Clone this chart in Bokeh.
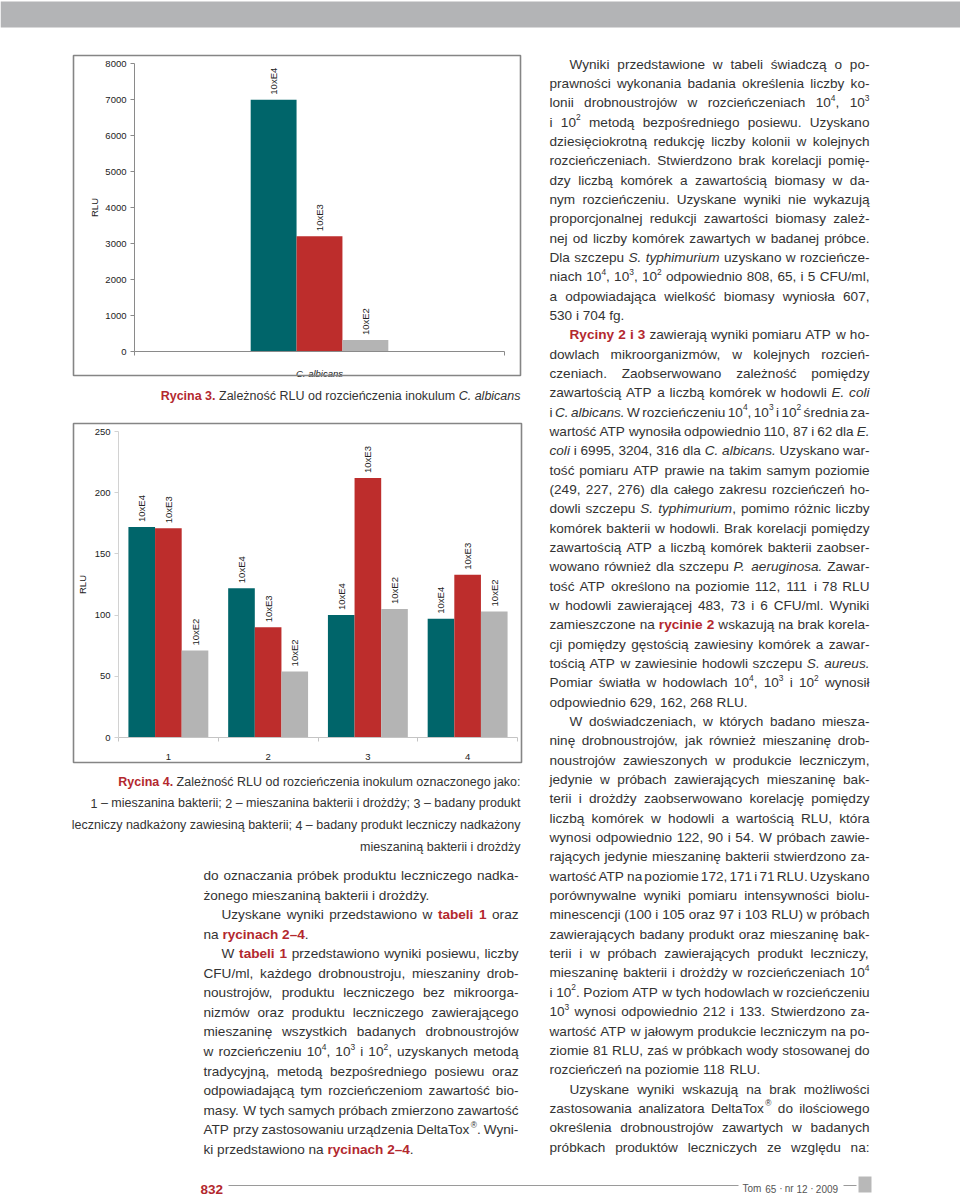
import math
from bokeh.plotting import figure
from bokeh.models import Range1d, LinearAxis, FixedTicker, ColumnDataSource, BoxAnnotation
from bokeh.transform import dodge
from bokeh.core.properties import value, field
from bokeh.embed import file_html
from bokeh.resources import INLINE

# ---------------- data ----------------
dilutions = ["10xE4", "10xE3", "10xE2"]
fig3_category = ["C. albicans"]
fig3_rlu = [6995, 3204, 316]
fig3_yticks = [0, 1000, 2000, 3000, 4000, 5000, 6000, 7000, 8000]

fig4_groups = [1, 2, 3, 4]
fig4_rlu_e4 = [172, 122, 100, 97]
fig4_rlu_e3 = [171, 90, 212, 133]
fig4_rlu_e2 = [71, 54, 105, 103]
fig4_yticks = [0, 50, 100, 150, 200, 250]

caption3 = "#Rycina 3.# Zależność RLU od rozcieńczenia inokulum _C. albicans_"
caption4 = [
    "#Rycina 4.# Zależność RLU od rozcieńczenia inokulum oznaczonego jako:",
    "1 – mieszanina bakterii; 2 – mieszanina bakterii i drożdży; 3 – badany produkt",
    "leczniczy nadkażony zawiesiną bakterii; 4 – badany produkt leczniczy nadkażony",
    "mieszaniną bakterii i drożdży",
]

# paragraphs: (lines, indented first line, paragraph ends on this page)
left_paras = [
    (["do oznaczania próbek produktu leczniczego nadka-",
      "żonego mieszaniną bakterii i drożdży."], False, True),
    (["Uzyskane wyniki przedstawiono w #tabeli 1# oraz",
      "na #rycinach 2–4#."], True, True),
    (["W #tabeli 1# przedstawiono wyniki posiewu, liczby",
      "CFU/ml, każdego drobnoustroju, mieszaniny drob-",
      "noustrojów, produktu leczniczego bez mikroorga-",
      "nizmów oraz produktu leczniczego zawierającego",
      "mieszaninę wszystkich badanych drobnoustrojów",
      "w rozcieńczeniu 10^4, 10^3 i 10^2, uzyskanych metodą",
      "tradycyjną, metodą bezpośredniego posiewu oraz",
      "odpowiadającą tym rozcieńczeniom zawartość bio-",
      "masy. W tych samych próbach zmierzono zawartość",
      "ATP przy zastosowaniu urządzenia DeltaTox^®. Wyni-",
      "ki przedstawiono na #rycinach 2–4#."], True, True),
]

right_paras = [
    (["Wyniki przedstawione w tabeli świadczą o po-",
      "prawności wykonania badania określenia liczby ko-",
      "lonii drobnoustrojów w rozcieńczeniach 10^4, 10^3",
      "i 10^2 metodą bezpośredniego posiewu. Uzyskano",
      "dziesięciokrotną redukcję liczby kolonii w kolejnych",
      "rozcieńczeniach. Stwierdzono brak korelacji pomię-",
      "dzy liczbą komórek a zawartością biomasy w da-",
      "nym rozcieńczeniu. Uzyskane wyniki nie wykazują",
      "proporcjonalnej redukcji zawartości biomasy zależ-",
      "nej od liczby komórek zawartych w badanej próbce.",
      "Dla szczepu _S. typhimurium_ uzyskano w rozcieńcze-",
      "niach 10^4, 10^3, 10^2 odpowiednio 808, 65, i 5 CFU/ml,",
      "a odpowiadająca wielkość biomasy wyniosła 607,",
      "530 i 704 fg."], True, True),
    (["#Ryciny 2 i 3# zawierają wyniki pomiaru ATP w ho-",
      "dowlach mikroorganizmów, w kolejnych rozcień-",
      "czeniach. Zaobserwowano zależność pomiędzy",
      "zawartością ATP a liczbą komórek w hodowli _E. coli_",
      "i _C. albicans._ W rozcieńczeniu 10^4, 10^3 i 10^2 średnia za-",
      "wartość ATP wynosiła odpowiednio 110, 87 i 62 dla _E._",
      "_coli_ i 6995, 3204, 316 dla _C. albicans._ Uzyskano war-",
      "tość pomiaru ATP prawie na takim samym poziomie",
      "(249, 227, 276) dla całego zakresu rozcieńczeń ho-",
      "dowli szczepu _S. typhimurium_, pomimo różnic liczby",
      "komórek bakterii w hodowli. Brak korelacji pomiędzy",
      "zawartością ATP a liczbą komórek bakterii zaobser-",
      "wowano również dla szczepu _P. aeruginosa._ Zawar-",
      "tość ATP określono na poziomie 112, 111 i 78 RLU",
      "w hodowli zawierającej 483, 73 i 6 CFU/ml. Wyniki",
      "zamieszczone na #rycinie 2# wskazują na brak korela-",
      "cji pomiędzy gęstością zawiesiny komórek a zawar-",
      "tością ATP w zawiesinie hodowli szczepu _S. aureus._",
      "Pomiar światła w hodowlach 10^4, 10^3 i 10^2 wynosił",
      "odpowiednio 629, 162, 268 RLU."], True, True),
    (["W doświadczeniach, w których badano miesza-",
      "ninę drobnoustrojów, jak również mieszaninę drob-",
      "noustrojów zawieszonych w produkcie leczniczym,",
      "jedynie w próbach zawierających mieszaninę bak-",
      "terii i drożdży zaobserwowano korelację pomiędzy",
      "liczbą komórek w hodowli a wartością RLU, która",
      "wynosi odpowiednio 122, 90 i 54. W próbach zawie-",
      "rających jedynie mieszaninę bakterii stwierdzono za-",
      "wartość ATP na poziomie 172, 171 i 71 RLU. Uzyskano",
      "porównywalne wyniki pomiaru intensywności biolu-",
      "minescencji (100 i 105 oraz 97 i 103 RLU) w próbach",
      "zawierających badany produkt oraz mieszaninę bak-",
      "terii i w próbach zawierających produkt leczniczy,",
      "mieszaninę bakterii i drożdży w rozcieńczeniach 10^4",
      "i 10^2. Poziom ATP w tych hodowlach w rozcieńczeniu",
      "10^3 wynosi odpowiednio 212 i 133. Stwierdzono za-",
      "wartość ATP w jałowym produkcie leczniczym na po-",
      "ziomie 81 RLU, zaś w próbkach wody stosowanej do",
      "rozcieńczeń na poziomie 118 RLU."], True, True),
    (["Uzyskane wyniki wskazują na brak możliwości",
      "zastosowania analizatora DeltaTox^® do ilościowego",
      "określenia drobnoustrojów zawartych w badanych",
      "próbkach produktów leczniczych ze względu na:"], True, False),
]

page_number = "832"
footer_text = "Tom 65 · nr 12 · 2009"

# ---------------- styles ----------------
FONT = "Liberation Sans"
TEAL, RED, GRAY = "#00656a", "#bd2d2c", "#b4b4b4"
BAR_COLORS = [TEAL, RED, GRAY]
TXT = "#333333"
REF_RED = "#b3282e"

# Arial / Liberation Sans advance widths (1/1000 em)
REG = {' ': 278, ',': 278, '.': 278, ':': 278, ';': 278, '-': 333, '(': 333, ')': 333, '/': 278,
       '–': 556, '®': 737, '·': 278}
for d in "0123456789":
    REG[d] = 556
REG.update(dict(zip("ABCDEFGHIJKLMNOPQRSTUVWXYZ",
                    [667, 667, 722, 722, 667, 611, 778, 722, 278, 500, 667, 556, 833, 722, 778, 667, 778,
                     722, 667, 611, 722, 667, 944, 667, 667, 611])))
REG.update(dict(zip("abcdefghijklmnopqrstuvwxyz",
                    [556, 556, 500, 556, 556, 278, 556, 556, 222, 222, 500, 222, 833, 556, 556, 556, 556,
                     333, 500, 278, 556, 500, 722, 500, 500, 500])))
REG.update({'ą': 556, 'ć': 500, 'ę': 556, 'ł': 222, 'ń': 556, 'ó': 556, 'ś': 500, 'ź': 500, 'ż': 500,
            'Ś': 667, 'Ż': 611, 'Ł': 556})
BOLD = dict(REG)
BOLD.update({':': 333, ';': 333})
BOLD.update(dict(zip("abcdefghijklmnopqrstuvwxyz",
                     [556, 611, 556, 611, 556, 333, 611, 611, 278, 278, 556, 278, 889, 611, 611, 611, 611,
                      389, 556, 333, 611, 556, 778, 556, 556, 500])))
BOLD.update({'R': 722, 'ą': 556, 'ę': 556, 'ł': 278})

SUP_SCALE, SUP_RISE = 0.62, 0.36

items = dict(x=[], y=[], text=[], size=[], fstyle=[], color=[])


def cw(c, bold):
    return (BOLD if bold else REG).get(c, 556)


def parse(line):
    out, it, bd, i = [], False, False, 0
    while i < len(line):
        c = line[i]
        if c == "_":
            it = not it
        elif c == "#":
            bd = not bd
        elif c == "^":
            out.append((line[i + 1], it, bd, True))
            i += 1
        else:
            out.append((c, it, bd, False))
        i += 1
    return out


def split_words(chars):
    words, cur = [], []
    for ch in chars:
        if ch[0] == " ":
            if cur:
                words.append(cur)
                cur = []
        else:
            cur.append(ch)
    if cur:
        words.append(cur)
    return words


def wwidth(word, fs):
    return sum(cw(c, b) * (SUP_SCALE if s else 1) for c, _, b, s in word) * fs / 1000


def emit(word, x, y, fs, color):
    seg = None

    def flush(seg):
        it, bd, sp = seg["key"]
        st = ("bold italic" if it else "bold") if bd else ("italic" if it else "normal")
        items["x"].append(seg["x"])
        items["y"].append(y - (SUP_RISE * fs if sp else 0))
        items["text"].append(seg["t"])
        items["size"].append("%.2fpx" % (fs * (SUP_SCALE if sp else 1)))
        items["fstyle"].append(st)
        items["color"].append(REF_RED if bd else color)

    for c, it, bd, sp in word:
        key = (it, bd, sp)
        if seg is None or seg["key"] != key:
            if seg is not None:
                flush(seg)
            seg = {"key": key, "t": "", "x": x}
        seg["t"] += c
        x += cw(c, bd) * (SUP_SCALE if sp else 1) * fs / 1000
    if seg is not None:
        flush(seg)


def set_line(line, x0, width, y, fs, color, mode, indent=0.0):
    words = split_words(parse(line))
    ws = [wwidth(w, fs) for w in words]
    sp = 278 * fs / 1000
    gap = sp
    if mode == "right":
        x = x0 + width - (sum(ws) + sp * (len(words) - 1))
    else:
        x = x0 + indent
        if mode == "justify" and len(words) > 1:
            gap = (width - indent - sum(ws)) / (len(words) - 1)
    for w, wd in zip(words, ws):
        emit(w, x, y, fs, color)
        x += wd + gap


def set_column(paras, x0, width, y0, lead, fs, indent):
    k = 0
    for lines, ind, ends in paras:
        for j, line in enumerate(lines):
            mode = "left" if (ends and j == len(lines) - 1) else "justify"
            set_line(line, x0, width, y0 + k * lead, fs, TXT, mode,
                     indent if (ind and j == 0) else 0.0)
            k += 1


# ---------------- page figure (coordinates = page pixels) ----------------
PL, PR, PT, PB = 0, 960, 0, 1196
p = figure(width=PR - PL, height=PB - PT, x_range=Range1d(PL, PR), y_range=Range1d(PB, PT),
           x_axis_type=None, y_axis_type=None, toolbar_location=None, output_backend="svg",
           min_border=0)
p.outline_line_color = None
p.background_fill_color = "white"
p.border_fill_color = "white"


def lin(v0, p0, v1, p1):
    return lambda px: v0 + (px - p0) * (v1 - v0) / (p1 - p0)


# chart placement (pixel anchors of the data ranges)
x3f, y3f = lin(0.5, 134, 1.5, 504), lin(0, 351, 8000, 63)
x4f, y4f = lin(0.5, 118, 4.5, 517), lin(0, 737, 250, 431)
p.extra_x_ranges = {"x3": Range1d(x3f(PL), x3f(PR)), "x4": Range1d(x4f(PL), x4f(PR))}
p.extra_y_ranges = {"y3": Range1d(y3f(PB), y3f(PT)), "y4": Range1d(y4f(PB), y4f(PT))}

# decorations
p.add_layout(BoxAnnotation(left=PL, right=PR, top=1, bottom=27, fill_color="#b3b4b6", fill_alpha=1,
                           line_color=None))
for (l, r, t, b) in [(73, 520, 55, 375), (73, 521, 423, 762)]:
    p.add_layout(BoxAnnotation(left=l, right=r, top=t, bottom=b, fill_alpha=0, line_color="#858585",
                               line_width=1.6, line_alpha=1))

# ---- Rycina 3 ----
BW3 = 0.124
off3 = [-BW3, 0.0, BW3]
src3 = ColumnDataSource(dict(x=[1 + o for o in off3], top=fig3_rlu, lab=dilutions, color=BAR_COLORS))
p.vbar(x="x", top="top", bottom=0, width=BW3, fill_color="color", line_color=None, source=src3,
       x_range_name="x3", y_range_name="y3")
p.text(x="x", y="top", text="lab", angle=math.pi / 2, text_align="left", text_baseline="middle",
       y_offset=-5, text_font=value(FONT), text_font_size="9.5px", text_color="#222222", source=src3,
       x_range_name="x3", y_range_name="y3")


def style_axis(ax, line_color, label_size="9.5px"):
    ax.axis_line_color = line_color
    ax.major_tick_line_color = line_color
    ax.minor_tick_line_color = line_color
    ax.major_label_text_font = FONT
    ax.major_label_text_font_size = label_size
    ax.major_label_text_color = "#222222"
    ax.axis_label_text_font = FONT
    ax.axis_label_text_font_size = "9.5px"
    ax.axis_label_text_font_style = "normal"
    ax.axis_label_text_color = "#222222"


ax3y = LinearAxis(y_range_name="y3", fixed_location=134, bounds=(0, 8000),
                  ticker=FixedTicker(ticks=fig3_yticks, minor_ticks=[]), axis_label="RLU",
                  major_tick_in=0, major_tick_out=4, minor_tick_out=0, major_label_standoff=4,
                  axis_label_standoff=2)
style_axis(ax3y, "#8a8a8a")
p.add_layout(ax3y, "left")
ax3x = LinearAxis(x_range_name="x3", y_range_name="y3", fixed_location=0, bounds=(0.5, 1.5),
                  ticker=FixedTicker(ticks=[1], minor_ticks=[0.5, 1.5]),
                  major_label_overrides={1: fig3_category[0]},
                  major_tick_in=0, major_tick_out=0, minor_tick_in=0, minor_tick_out=4,
                  major_label_standoff=12)
style_axis(ax3x, "#8a8a8a")
ax3x.major_label_text_font_style = "italic"
p.add_layout(ax3x, "below")

# ---- Rycina 4 ----
BW4 = 0.267
for lab, vals, off, col in zip(dilutions, [fig4_rlu_e4, fig4_rlu_e3, fig4_rlu_e2], [-BW4, 0.0, BW4],
                               BAR_COLORS):
    s = ColumnDataSource(dict(g=fig4_groups, v=vals, lab=[lab] * len(vals)))
    p.vbar(x=dodge("g", off), top="v", bottom=0, width=BW4, fill_color=col, line_color=None, source=s,
           x_range_name="x4", y_range_name="y4")
    p.text(x=dodge("g", off), y="v", text="lab", angle=math.pi / 2, text_align="left",
           text_baseline="middle", y_offset=-5, text_font=value(FONT), text_font_size="9.5px",
           text_color="#222222", source=s, x_range_name="x4", y_range_name="y4")

ax4y = LinearAxis(y_range_name="y4", fixed_location=118, bounds=(0, 250),
                  ticker=FixedTicker(ticks=fig4_yticks, minor_ticks=[]), axis_label="RLU",
                  major_tick_in=0, major_tick_out=4, minor_tick_out=0, major_label_standoff=4,
                  axis_label_standoff=4)
style_axis(ax4y, "#d2d2d2")
p.add_layout(ax4y, "left")
ax4x = LinearAxis(x_range_name="x4", y_range_name="y4", fixed_location=0, bounds=(0.5, 4.5),
                  ticker=FixedTicker(ticks=fig4_groups, minor_ticks=[0.5, 1.5, 2.5, 3.5, 4.5]),
                  major_tick_in=0, major_tick_out=0, minor_tick_in=0, minor_tick_out=4,
                  major_label_standoff=12)
style_axis(ax4x, "#c4c4c4")
p.add_layout(ax4x, "below")

# ---------------- text blocks ----------------
CAP_FS = 12.5
set_line(caption3, 73, 447, 395, CAP_FS, TXT, "right")
for k, line in enumerate(caption4):
    set_line(line, 73, 447, 781 + k * 21.8, CAP_FS, TXT, "right")

BODY_FS = 13.6
set_column(left_paras, 203, 315, 875, 19.55, BODY_FS, 18)
set_column(right_paras, 549, 320, 63.5, 19.34, BODY_FS, 20)

# footer
set_line("#" + page_number + "#", 200, 40, 1189, 13.5, "#222222", "left")
set_line(footer_text, 742, 120, 1188, 10, "#555555", "left")
for (l, r) in [(228, 738), (843, 856)]:
    p.add_layout(BoxAnnotation(left=l, right=r, top=1184.5, bottom=1185.5, fill_color="#9a9a9a",
                               fill_alpha=1, line_color=None))
p.add_layout(BoxAnnotation(left=858, right=871, top=1176, bottom=1192, fill_color="#b8b8b8", fill_alpha=1,
                           line_color=None))

src_txt = ColumnDataSource(items)
p.text(x="x", y="y", text="text", text_font=value(FONT), text_font_size=field("size"),
       text_font_style=field("fstyle"), text_color=field("color"), text_align="left",
       text_baseline="alphabetic", source=src_txt)

open("out.html", "w").write(file_html(p, INLINE, title="Rycina 3 i 4"))
